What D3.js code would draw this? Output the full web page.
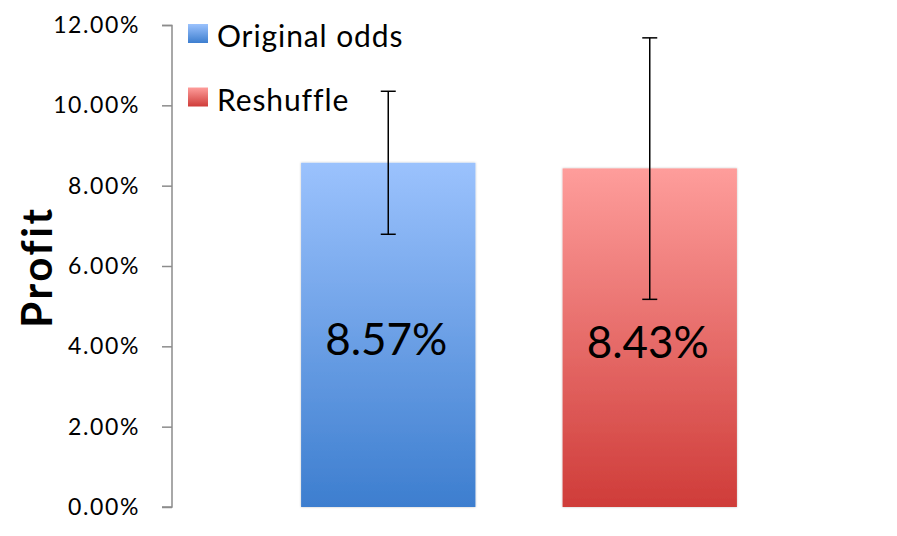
<!DOCTYPE html>
<html><head><meta charset="utf-8">
<script src="https://cdn.jsdelivr.net/npm/d3@7"></script>
<style>body{margin:0;background:#fff}svg{display:block}</style>
</head><body>
<svg id="chart" width="897" height="536"></svg>
<script>
const categories = ["Original odds", "Reshuffle"];
const values = [8.57, 8.43];
const errorHigh = [10.35, 11.68];
const errorLow = [6.79, 5.17];
const valueLabels = ["8.57%", "8.43%"];
const tickValues = [0, 2, 4, 6, 8, 10, 12];
const topColors = ["#9bc2fd", "#fe9d9b"];
const bottomColors = ["#3d7ecf", "#cf3c39"];

const svg = d3.select("#chart");
const font = "Lato, 'Open Sans', sans-serif";
const y = d3.scaleLinear().domain([0, 12]).range([507, 25]);
const x = d3.scaleBand().domain(categories).range([257.5, 780.5]).paddingInner(1 / 3).paddingOuter(1 / 6);

const defs = svg.append("defs");
categories.forEach((c, i) => {
  const g = defs.append("linearGradient").attr("id", "g" + i).attr("x1", 0).attr("y1", 0).attr("x2", 0).attr("y2", 1);
  g.append("stop").attr("offset", "0%").attr("stop-color", topColors[i]);
  g.append("stop").attr("offset", "100%").attr("stop-color", bottomColors[i]);
});
const f = defs.append("filter").attr("id", "sh").attr("x", "-5%").attr("y", "-5%").attr("width", "110%").attr("height", "110%");
f.append("feDropShadow").attr("dx", 0).attr("dy", 0).attr("stdDeviation", 1.2).attr("flood-color", "#000").attr("flood-opacity", 0.25);

// axis
const axis = d3.axisLeft(y).tickValues(tickValues).tickSize(10).tickPadding(22).tickFormat(d => d3.format(".2f")(d) + "%");
const ag = svg.append("g").attr("transform", "translate(172,0)").call(axis);
ag.select(".domain").attr("stroke", "#8c8c8c").attr("stroke-width", 1.5).attr("d", "M-10,25.5H0V507H-10");
ag.selectAll(".tick line").attr("stroke", "#8c8c8c").attr("stroke-width", 1.5);
ag.selectAll(".tick text").attr("font-family", font).attr("font-size", 23).attr("letter-spacing", 1.6).attr("fill", "#000");

svg.append("text").attr("transform", "translate(52,267) rotate(-90)").attr("text-anchor", "middle")
  .attr("font-family", font).attr("font-weight", "bold").attr("font-size", 42).attr("letter-spacing", 2.6).text("Profit");

// bars
svg.selectAll("rect.bar").data(values).join("rect").attr("class", "bar")
  .attr("x", (d, i) => x(categories[i])).attr("width", x.bandwidth())
  .attr("y", d => y(d)).attr("height", d => y(0) - y(d))
  .attr("fill", (d, i) => `url(#g${i})`).attr("filter", "url(#sh)");

// value labels
svg.selectAll("text.val").data(valueLabels).join("text").attr("class", "val")
  .attr("x", (d, i) => x(categories[i]) + x.bandwidth() / 2 - 2)
  .attr("y", (d, i) => (y(values[i]) + y(0)) / 2 + 20)
  .attr("text-anchor", "middle").attr("font-family", font).attr("font-size", 44).attr("fill", "#000").text(d => d);

// error bars
const eg = svg.selectAll("g.err").data(categories).join("g").attr("class", "err")
  .attr("stroke", "#000").attr("stroke-width", 1.5);
eg.append("line").attr("x1", (d, i) => x(d) + x.bandwidth() / 2).attr("x2", (d, i) => x(d) + x.bandwidth() / 2)
  .attr("y1", (d, i) => y(errorHigh[i])).attr("y2", (d, i) => y(errorLow[i]));
eg.append("line").attr("x1", (d) => x(d) + x.bandwidth() / 2 - 7.5).attr("x2", (d) => x(d) + x.bandwidth() / 2 + 7.5)
  .attr("y1", (d, i) => y(errorHigh[i])).attr("y2", (d, i) => y(errorHigh[i]));
eg.append("line").attr("x1", (d) => x(d) + x.bandwidth() / 2 - 7.5).attr("x2", (d) => x(d) + x.bandwidth() / 2 + 7.5)
  .attr("y1", (d, i) => y(errorLow[i])).attr("y2", (d, i) => y(errorLow[i]));

// legend
const lg = svg.selectAll("g.leg").data(categories).join("g").attr("class", "leg")
  .attr("transform", (d, i) => `translate(188,${24 + i * 63.5})`);
lg.append("rect").attr("width", 20).attr("height", 19).attr("fill", (d, i) => `url(#g${i})`);
lg.append("text").attr("x", 29).attr("y", 23).attr("font-family", font).attr("font-size", 30).attr("letter-spacing", 0.9).attr("fill", "#000").text(d => d);
</script>
</body></html>
